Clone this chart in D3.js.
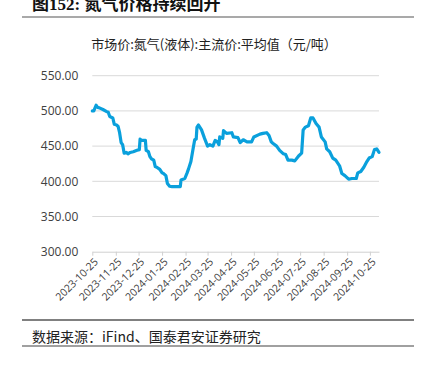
<!DOCTYPE html>
<html>
<head>
<meta charset="utf-8">
<script src="https://cdn.jsdelivr.net/npm/d3@7"></script>
<style>
  html, body { margin: 0; padding: 0; background: #fff; }
  svg { display: block; }
</style>
</head>
<body>
<svg id="chart" width="421" height="366"></svg>
<script>
const dates = [
  "2023-10-25","2023-10-27","2023-10-30","2023-11-01","2023-11-04","2023-11-08","2023-11-13","2023-11-15","2023-11-17","2023-11-21",
  "2023-11-23","2023-11-26","2023-11-28","2023-11-30","2023-12-02","2023-12-04","2023-12-06","2023-12-09","2023-12-11","2023-12-14",
  "2023-12-18","2023-12-23","2023-12-26","2023-12-27","2023-12-29","2024-01-03","2024-01-04","2024-01-07","2024-01-09","2024-01-11",
  "2024-01-14","2024-01-16","2024-01-18","2024-01-22","2024-01-25","2024-01-27","2024-01-30","2024-02-01","2024-02-04","2024-02-07",
  "2024-02-18","2024-02-19","2024-02-24","2024-02-27","2024-02-29","2024-03-03","2024-03-06","2024-03-08","2024-03-10","2024-03-11",
  "2024-03-13","2024-03-17","2024-03-21","2024-03-25","2024-03-28","2024-04-01","2024-04-04","2024-04-07","2024-04-09","2024-04-10",
  "2024-04-14","2024-04-15","2024-04-19","2024-04-26","2024-04-28","2024-05-04","2024-05-07","2024-05-11","2024-05-16","2024-05-22",
  "2024-05-25","2024-06-02","2024-06-06","2024-06-11","2024-06-14","2024-06-17","2024-06-19","2024-06-24","2024-06-28","2024-07-03",
  "2024-07-06","2024-07-09","2024-07-14","2024-07-18","2024-07-23","2024-07-27","2024-07-29","2024-08-01","2024-08-05","2024-08-08",
  "2024-08-11","2024-08-15","2024-08-19","2024-08-22","2024-08-27","2024-08-29","2024-09-02","2024-09-06","2024-09-10","2024-09-15",
  "2024-09-18","2024-09-22","2024-09-27","2024-10-01","2024-10-07","2024-10-09","2024-10-13","2024-10-17","2024-10-21","2024-10-24",
  "2024-10-28","2024-10-31","2024-11-03","2024-11-06"
];
const prices = [
  500,500,508,505,504,502,499,498,492,490,
  481,480,478,469,455,452,440,441,439,441,
  442,444,445,460,458,458,444,442,435,432,
  430,421,420,417,412,411,408,397,393,392.5,
  392.5,402,404,412,418,428,447,459,460,477,
  480,473,461,450,452,450,458,456,452,463,
  461,472,468,469,463,462,455,459,456,456,
  463,467,468,469,465,456,454,450,444,439,
  438,430,430,429,436,440,473,477,479,490,
  490,482,477,463,456,446,442,433,430,422,
  411,408,403,404,404,412,414,420,428,433,
  435,445,446,441
];
const tickLabels = ["2023-10-25","2023-11-25","2023-12-25","2024-01-25","2024-02-25","2024-03-25","2024-04-25","2024-05-25","2024-06-25","2024-07-25","2024-08-25","2024-09-25","2024-10-25"];
const yTicks = [300, 350, 400, 450, 500, 550];
const titleText = "图152:  氮气价格持续回升";
const subtitleText = "市场价:氮气(液体):主流价:平均值（元/吨）";
const sourceText = "数据来源：iFind、国泰君安证券研究";

const parse = d3.utcParse("%Y-%m-%d");
const data = dates.map((d, i) => ({ date: parse(d), value: prices[i] }));

const svg = d3.select("#chart");
const cjk = "'Noto Sans CJK SC', 'Noto Sans', sans-serif";

// Header
svg.append("text").attr("x", 32).attr("y", 9.5)
  .attr("font-family", "'Liberation Serif', 'Noto Sans CJK SC', serif")
  .attr("font-weight", "bold").attr("font-size", 17).attr("fill", "#111")
  .text(titleText);
svg.append("line").attr("x1", 22).attr("x2", 414).attr("y1", 17).attr("y2", 17)
  .attr("stroke", "#8c8c8c").attr("stroke-width", 1.5);

svg.append("text").attr("x", 214).attr("y", 49)
  .attr("text-anchor", "middle").attr("font-family", cjk)
  .attr("font-size", 13).attr("fill", "#222")
  .text(subtitleText);

// Scales
const x = d3.scaleUtc()
  .domain([parse("2023-10-25"), parse("2024-11-06")])
  .range([92.3, 379]);
const y = d3.scaleLinear().domain([300, 550]).range([251.7, 75.7]);

// Grid
svg.append("g").selectAll("line").data(yTicks.filter(v => v > 300)).join("line")
  .attr("x1", 92.3).attr("x2", 379)
  .attr("y1", d => y(d)).attr("y2", d => y(d))
  .attr("stroke", "#d9d9d9").attr("stroke-width", 1);

// Y axis labels
const yAxis = d3.axisLeft(y).tickValues(yTicks).tickFormat(d3.format(".2f")).tickSize(0).tickPadding(14);
const gy = svg.append("g").attr("transform", "translate(92.3,0)").call(yAxis);
gy.select(".domain").remove();
gy.selectAll("text").attr("font-family", "'Open Sans', 'Noto Sans', sans-serif")
  .attr("font-size", 12).attr("fill", "#404040");

// X axis
const xAxis = d3.axisBottom(x).tickValues(tickLabels.map(parse))
  .tickFormat(d3.utcFormat("%Y-%m-%d")).tickSize(4).tickSizeOuter(0);
const gx = svg.append("g").attr("transform", "translate(0,251.7)").call(xAxis);
gx.select(".domain").attr("stroke", "#d0d0d0");
gx.selectAll(".tick line").attr("stroke", "#d0d0d0");
gx.selectAll("text")
  .attr("font-family", "'Open Sans', 'Noto Sans', sans-serif")
  .attr("font-size", 10.5).attr("fill", "#404040")
  .attr("text-anchor", "end")
  .attr("transform", "translate(2,4) rotate(-45)")
  .attr("dy", "0.35em").attr("dx", "0").attr("y", 4).attr("x", -2);

// Line
const line = d3.line().x(d => x(d.date)).y(d => y(d.value)).curve(d3.curveLinear);
svg.append("path").datum(data)
  .attr("fill", "none").attr("stroke", "#0aa0dc").attr("stroke-width", 3.2)
  .attr("stroke-linejoin", "round").attr("stroke-linecap", "round")
  .attr("d", line);

// Footer
svg.append("line").attr("x1", 22).attr("x2", 414).attr("y1", 320).attr("y2", 320)
  .attr("stroke", "#808080").attr("stroke-width", 2);
svg.append("text").attr("x", 32).attr("y", 341.5)
  .attr("font-family", cjk).attr("font-size", 14).attr("fill", "#222")
  .text(sourceText);
svg.append("line").attr("x1", 22).attr("x2", 414).attr("y1", 346).attr("y2", 346)
  .attr("stroke", "#808080").attr("stroke-width", 1.5);
</script>
</body>
</html>
